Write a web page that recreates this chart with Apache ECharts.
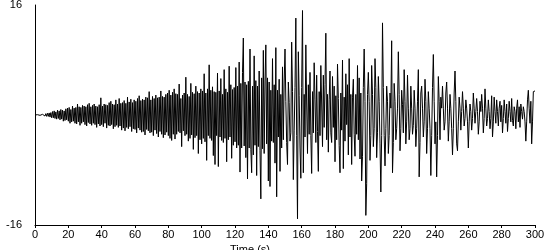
<!DOCTYPE html>
<html><head><meta charset="utf-8">
<script src="https://cdn.jsdelivr.net/npm/echarts@6/dist/echarts.min.js"></script>
<style>html,body{margin:0;padding:0;background:#fff}#c{width:550px;height:250px}</style>
</head><body><div id="c"></div>
<script>
// Time step of the record (s) and acceleration values (cm/s/s), two per second from t = 0
var timeStep = 0.5;
var accel = [
 0, 0.05, -0.05, 0.05, -0.05, 0.05, -0.05, 0.05, -0.05, 0.1,
 -0.1, 0.15, -0.15, 0.2, -0.2, 0.25, -0.2, 0.3, -0.3, 0.35,
 -0.4, 0.5, -0.4, 0.6, -0.5, 0.45, -0.6, 0.7, -0.5, 0.6,
 -0.7, 0.8, -0.6, 0.7, -0.9, 0.6, -0.8, 0.9, -0.7, 1.0,
 -0.9, 1.1, -1.2, 0.8, -1.0, 1.3, -0.9, 1.0, -1.2, 1.1,
 -1.3, 1.6, -1.0, 1.2, -1.5, 1.1, -1.2, 1.4, -1.0, 1.3,
 -1.4, 1.2, -1.6, 1.5, -1.1, 1.7, -1.3, 1.2, -1.5, 1.4,
 -1.2, 1.6, -1.4, 1.3, -1.8, 1.2, -1.3, 1.5, -1.6, 2.5,
 -1.4, 1.3, -1.7, 1.6, -1.2, 1.5, -1.9, 1.4, -1.5, 1.8,
 -1.6, 2.0, -1.4, 1.6, -2.0, 1.5, -1.7, 2.2, -1.5, 1.6,
 -1.8, 2.4, -1.6, 1.7, -2.2, 1.8, -1.9, 2.1, -2.3, 1.7,
 -1.8, 2.6, -2.0, 1.9, -1.7, 2.3, -2.4, 1.8, -2.0, 2.2,
 -2.1, 2.0, -2.6, 2.4, -1.9, 2.8, -2.2, 2.1, -2.5, 2.3,
 -2.4, 2.2, -2.9, 2.6, -2.1, 2.5, -2.3, 3.4, -2.6, 2.2,
 -2.5, 2.7, -3.0, 2.4, -2.2, 2.9, -2.7, 2.5, -3.2, 2.6,
 -2.4, 3.5, -2.8, 2.7, -3.3, 2.6, -2.9, 3.0, -2.5, 3.2,
 -3.0, 3.6, -3.4, 2.9, -3.7, 3.3, -2.8, 3.8, -3.5, 3.1,
 -2.8, 3.0, -2.4, 4.5, -2.6, 2.4, -4.6, 2.9, -2.3, 3.2,
 -3.0, 5.5, -2.8, 3.0, -3.8, 2.7, -3.4, 4.6, -2.9, 3.3,
 -5.0, 3.1, -3.3, 4.2, -3.0, 3.4, -5.6, 3.2, -3.6, 3.8,
 -4.2, 3.5, -3.4, 6.0, -3.9, 3.2, -6.6, 3.8, -3.0, 7.3,
 -3.4, 3.6, -3.7, 4.1, -5.9, 3.4, -7.2, 3.3, -3.0, 6.1,
 -7.5, 3.5, -3.2, 5.3, -3.7, 3.0, -4.0, 6.6, -3.4, 3.8,
 -6.8, 3.3, -3.6, 7.1, -3.2, 4.4, -6.3, 3.7, -4.4, 4.0,
 -3.9, 6.9, -4.8, 4.2, -4.4, 7.7, -8.3, 4.6, -4.8, 6.2,
 11.2, -4.5, 4.8, -6.2, 4.4, -9.3, 4.9, -4.8, 9.6, -5.0,
 -8.4, 4.2, -5.8, 8.6, -4.4, 5.0, -8.8, 4.2, -4.6, 6.4,
 -5.2, -12.2, 5.4, -4.9, 9.4, -5.6, 4.8, 10.2, -4.2, 5.4,
 -9.6, 4.8, -10.4, 3.6, -3.8, 8.2, -4.0, 4.4, -7.0, 9.8,
 -11.9, 3.6, -3.2, 5.2, -8.2, 3.0, -4.8, 7.0, -3.6, 4.8,
 9.6, 2.0, -4.0, -7.2, 4.8, 1.8, -3.8, -2.6, 10.6, 3.4,
 -9.4, -2.2, 4.0, 14.1, -3.0, -15.1, 9.2, 2.8, -4.8, -9.2,
 4.0, 15.2, -8.4, 3.0, -3.2, 10.2, 1.6, -5.6, 4.4, -2.8,
 6.2, -3.0, -8.5, 3.4, -2.6, 7.6, 2.2, -4.0, 5.8, -2.4,
 -8.2, 3.4, -3.0, 7.2, 1.6, -4.6, 5.8, -1.8, 4.4, 11.9,
 -3.6, 3.0, -5.4, 2.2, 6.4, -2.6, -4.0, 5.6, -1.8, 4.2,
 -6.8, 2.8, -3.6, 7.4, 2.4, -4.4, -8.4, 3.2, -2.2, 8.0,
 -7.8, 2.6, -3.8, 6.0, -1.4, 4.4, -5.8, 8.2, -3.2, 3.0,
 -7.2, 2.6, 5.2, -2.8, -6.0, 3.0, -2.8, 7.2, -3.6, 5.4,
 -6.4, 3.2, -9.6, -6.0, 4.0, 9.6, 2.0, -14.6, -10.0, 3.0,
 6.2, 2.0, -6.6, -3.0, 7.2, 3.0, -4.6, -2.0, 8.2, 4.0,
 -6.2, -2.5, 5.6, 2.0, -4.2, -11.2, -3.0, 13.4, 4.0, -3.0,
 -7.4, -2.0, 4.2, 2.0, -5.6, -3.0, 3.2, 1.0, 10.8, -8.4,
 -4.0, 4.6, 2.0, -3.6, -2.0, 1.0, 9.2, 3.0, -5.2, -2.0,
 3.6, 1.5, -2.6, 6.6, 2.0, -4.2, -1.0, 5.8, 1.0, -3.6,
 -2.0, 4.2, 1.0, -2.8, -1.5, 3.6, 1.0, -4.6, -2.0, 2.0,
 6.6, -9.0, -4.0, 3.2, 4.2, 1.0, -3.2, -1.0, 5.2, 2.0,
 -5.6, -2.0, 3.4, 1.0, -2.0, -8.8, -3.0, 4.0, 8.8, 2.0,
 -4.2, -1.0, -9.0, -3.0, 5.6, 2.0, -3.6, 2.6, 1.0, 4.2,
 1.0, -2.2, -1.0, 3.2, 4.8, 1.0, -3.8, -1.0, 3.0, 1.0,
 -2.0, -5.8, -2.0, 3.2, 6.4, 2.0, -4.2, -5.2, -1.0, 2.6,
 1.0, -2.2, 0.5, 3.4, 1.0, -1.6, -0.5, 2.2, 1.0, -1.0,
 -4.8, -1.0, 1.6, 0.5, -2.2, -0.5, 3.2, 1.0, -1.2, 0.5,
 2.4, 0.5, -2.8, -1.0, 2.0, 0.5, 3.0, 1.0, -2.6, -0.5,
 3.8, 1.0, -1.6, -0.5, 2.2, 0.5, -2.0, -0.5, 2.8, -3.2,
 -1.0, 2.6, 0.5, -1.2, 2.2, 0.5, -1.6, 1.0, 2.0, -1.0,
 1.4, -2.6, -0.5, 2.2, 0.5, -1.2, 1.6, -2.4, -0.5, 2.0,
 0.5, -1.0, 2.4, -0.8, -1.6, 1.2, 0.5, -2.0, 1.0, 2.2,
 -1.0, 1.2, -1.8, 1.6, 0.5, -0.6, 1.2, 0.5, -1.0, -3.8,
 -1.0, 2.2, 3.6, 1.0, -1.2, 2.0, -4.2, -1.0, 3.4, 3.5,
 3.5
];
var xTicks = [0, 20, 40, 60, 80, 100, 120, 140, 160, 180, 200, 220, 240, 260, 280, 300];
var yTickLabels = ['-16', '16'];

var seriesData = accel.map(function (v, i) { return [i * timeStep, v]; });
var font = 'Liberation Sans, Arial, sans-serif';
var chart = echarts.init(document.getElementById('c'), null, {renderer: 'canvas'});
chart.setOption({
  animation: false,
  grid: {left: 35, right: 15, top: 5, bottom: 25, containLabel: false, outerBoundsMode: 'none'},
  xAxis: {
    type: 'value', min: 0, max: 300, interval: 20,
    name: 'Time (s)', nameLocation: 'middle', nameGap: 13,
    nameTextStyle: {color: '#000', fontFamily: font, fontSize: 11, padding: [0, 70, 0, 0]},
    axisLine: {show: true, onZero: false, lineStyle: {color: '#000', width: 1}},
    axisTick: {show: true, length: 3, lineStyle: {color: '#000'}},
    axisLabel: {color: '#000', fontFamily: font, fontSize: 11, margin: 4,
      formatter: function (v) { return xTicks.indexOf(v) >= 0 ? String(v) : ''; }},
    splitLine: {show: false}
  },
  yAxis: {
    type: 'value', min: -16, max: 16, interval: 16,
    name: 'cm/s/s', nameLocation: 'middle', nameGap: 17, nameRotate: 90,
    nameTextStyle: {color: '#000', fontFamily: font, fontSize: 11},
    axisLine: {show: true, onZero: false, lineStyle: {color: '#000', width: 1}},
    axisTick: {show: false},
    axisLabel: {color: '#000', fontFamily: font, fontSize: 11, margin: 13,
      formatter: function (v) { var s = String(v); return yTickLabels.indexOf(s) >= 0 ? s : ''; }},
    splitLine: {show: false}
  },
  series: [{
    type: 'line', data: seriesData, showSymbol: false, symbol: 'none',
    lineStyle: {color: '#000', width: 1}, silent: true
  }]
});
</script>
</body></html>
